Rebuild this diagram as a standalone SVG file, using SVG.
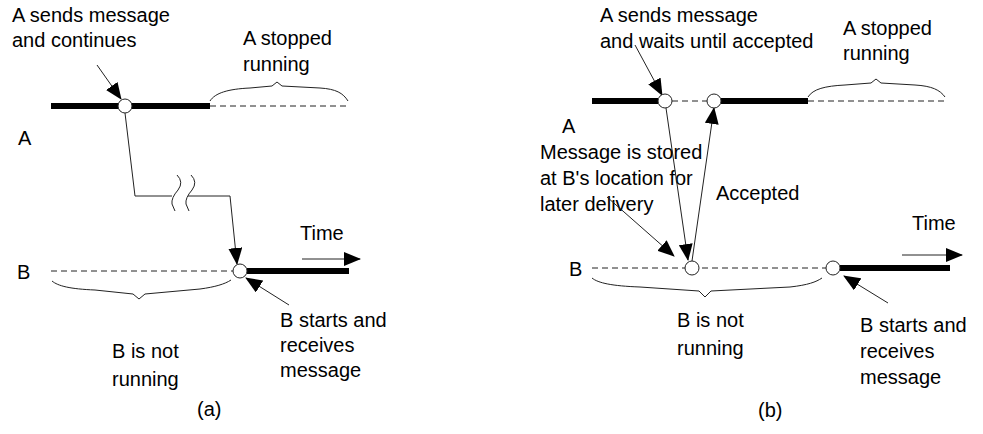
<svg xmlns="http://www.w3.org/2000/svg" width="983" height="434" viewBox="0 0 983 434">
<style>
text{font-family:"Liberation Sans",Arial,sans-serif;font-size:20px;fill:#000}
.thick{stroke:#000;stroke-width:6;fill:none}
.dash{stroke:#222;stroke-width:1;stroke-dasharray:6,4;fill:none}
.thin{stroke:#222;stroke-width:1;fill:none}
.ar{stroke:#222;stroke-width:1;fill:none;marker-end:url(#ah)}
.ev{fill:#fff;stroke:#222;stroke-width:1}
</style>
<defs>
<marker id="ah" viewBox="0 0 17 14" refX="16" refY="7" markerWidth="17" markerHeight="14" markerUnits="userSpaceOnUse" orient="auto">
<path d="M0,0 L17,7 L0,14 Z" fill="#000"/>
</marker>
</defs>
<rect width="983" height="434" fill="#fff"/>
<g id="panel-a">
<g id="a-timeline-A">
<line class="thick" x1="51" y1="106" x2="210" y2="106"/>
<line class="dash" x1="210" y1="106" x2="348" y2="106"/>
<text x="18" y="145">A</text>
</g>
<g id="a-timeline-B">
<line class="dash" x1="51" y1="271" x2="233" y2="271"/>
<line class="thick" x1="247" y1="271" x2="349" y2="271"/>
<text x="17" y="279">B</text>
</g>
<g id="a-brace-A">
<path class="thin" d="M210,101 C215,93 228,89 250,88 L272,86 L277,82 L282,86 L320,88 C336,89 343,93 348,101"/>
<text x="243" y="45">A stopped</text>
<text x="243" y="71">running</text>
</g>
<g id="a-brace-B">
<path class="thin" d="M52,281 C58,286 70,289 95,290 L133,294 L139,299 L145,294 L200,289 C215,287 225,284 231,280"/>
<text x="112" y="358">B is not</text>
<text x="112" y="386">running</text>
</g>
<g id="a-send-label">
<text x="12" y="22">A sends message</text>
<text x="12" y="47">and continues</text>
</g>
<g id="a-recv-label">
<text x="280" y="327">B starts and</text>
<text x="280" y="352">receives</text>
<text x="280" y="377">message</text>
</g>
<g id="a-time">
<text x="300" y="240">Time</text>
</g>
<g id="a-caption"><text x="197" y="416">(a)</text></g>
</g>
<g id="panel-b">
<g id="b-timeline-A">
<line class="thick" x1="592" y1="101" x2="658" y2="101"/>
<line class="dash" x1="672" y1="101" x2="707" y2="101"/>
<line class="thick" x1="721" y1="101" x2="808" y2="101"/>
<line class="dash" x1="808" y1="101" x2="945" y2="101"/>
<text x="562" y="133">A</text>
</g>
<g id="b-timeline-B">
<line class="dash" x1="592" y1="268" x2="826" y2="268"/>
<line class="thick" x1="840" y1="268" x2="950" y2="268"/>
<text x="569" y="276">B</text>
</g>
<g id="b-brace-A">
<path class="thin" d="M808,97 C813,89 825,86 845,85 L871,83 L876,79 L881,83 L915,85 C932,86 940,90 945,97"/>
<text x="843" y="35">A stopped</text>
<text x="843" y="60">running</text>
</g>
<g id="b-brace-B">
<path class="thin" d="M592,278 C598,283 612,286 640,287 L699,291 L705,297 L711,291 L790,287 C808,285 816,282 822,278"/>
<text x="677" y="327">B is not</text>
<text x="677" y="355">running</text>
</g>
<g id="b-send-label">
<text x="600" y="22">A sends message</text>
<text x="600" y="48">and waits until accepted</text>
</g>
<g id="b-store-label">
<text x="540" y="159">Message is stored</text>
<text x="540" y="185">at B's location for</text>
<text x="540" y="211">later delivery</text>
</g>
<g id="b-accept-label"><text x="716" y="200">Accepted</text></g>
<g id="b-recv-label">
<text x="860" y="332">B starts and</text>
<text x="860" y="358">receives</text>
<text x="860" y="384">message</text>
</g>
<g id="b-time"><text x="912" y="230">Time</text></g>
<g id="b-caption"><text x="758" y="417">(b)</text></g>
</g>
<g id="connectors">
<path class="ar" d="M97,65 L121,99"/>
<path class="thin" d="M125,113 L135,196 L172,196"/>
<path class="thin" d="M177,175 Q184,182 178,190 Q171,198 172,204 L175,211"/>
<path class="thin" d="M191,175 Q198,182 192,190 Q185,198 186,204 L189,211"/>
<path class="ar" d="M188,196 L230,196 L237,264"/>
<path class="ar" d="M289,305 L246,278"/>
<path class="ar" d="M302,259 L360,259"/>
<path class="ar" d="M635,45 L662,95"/>
<path class="ar" d="M666,108 L688,260"/>
<path class="ar" d="M692,261 L714,108"/>
<path class="ar" d="M607,197 L674,256"/>
<path class="ar" d="M888,303 L844,276"/>
<path class="ar" d="M902,255 L962,255"/>
</g>
<g id="events">
<circle class="ev" cx="125" cy="106" r="7"/>
<circle class="ev" cx="240" cy="271" r="7"/>
<circle class="ev" cx="665" cy="101" r="7"/>
<circle class="ev" cx="714" cy="101" r="7"/>
<circle class="ev" cx="692" cy="268" r="7"/>
<circle class="ev" cx="833" cy="268" r="7"/>
</g>
</svg>
